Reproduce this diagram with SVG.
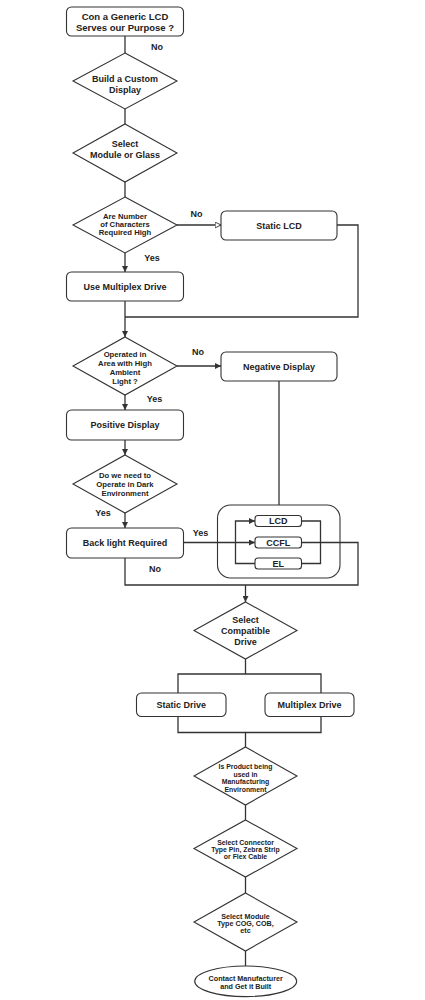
<svg xmlns="http://www.w3.org/2000/svg" width="425" height="1000" viewBox="0 0 425 1000">
<defs>
<style>
.bx{fill:#fff;stroke:#333;stroke-width:1.1}
.t{font-family:"Liberation Sans",Arial,sans-serif;font-weight:bold;fill:#222;text-anchor:middle}
.f9{font-size:9px}
.f95{font-size:9.5px}
.f78{font-size:7.7px}
.f73{font-size:7.2px}
.f7{font-size:6.9px}
.c{fill:none;stroke:#333;stroke-width:1.3}
</style>
<marker id="arr" viewBox="0 0 6 6" refX="6" refY="3" markerWidth="6" markerHeight="6" markerUnits="userSpaceOnUse" orient="auto">
<path d="M0,0 L6,3 L0,6 z" fill="#333"/>
</marker>
<marker id="arrOpen" viewBox="0 0 7 7" refX="6.5" refY="3.5" markerWidth="7" markerHeight="7" markerUnits="userSpaceOnUse" orient="auto">
<path d="M0.6,0.6 L6.5,3.5 L0.6,6.4 z" fill="#fff" stroke="#333" stroke-width="0.9"/>
</marker>
</defs>
<rect width="425" height="1000" fill="#fff"/>

<g id="connectors">
<path class="c" d="M125,36 V53"/>
<path class="c" d="M125,109 V124"/>
<path class="c" d="M125,182 V197"/>
<path class="c" d="M177,225 H221" marker-end="url(#arrOpen)"/>
<path class="c" d="M125,253 V272" marker-end="url(#arr)"/>
<path class="c" d="M337,225 H358 V317 H125"/>
<path class="c" d="M125,301 V337" marker-end="url(#arr)"/>
<path class="c" d="M177,366 H221" marker-end="url(#arr)"/>
<path class="c" d="M125,395 V410" marker-end="url(#arr)"/>
<path class="c" d="M125,440 V455" marker-end="url(#arr)"/>
<path class="c" d="M125,513 V528" marker-end="url(#arr)"/>
<path class="c" d="M279,381 V505"/>
<path class="c" d="M183.5,542.5 H255" marker-end="url(#arr)"/>
<path class="c" d="M255,563.5 H235.5 V521 H255" marker-end="url(#arr)"/>
<path class="c" d="M301.5,521 H320.5 V563.5 H301.5"/>
<path class="c" d="M301.5,542.5 H358 V585 H125 V558"/>
<path class="c" d="M245.5,585 V602" marker-end="url(#arr)"/>
<path class="c" d="M245.5,659 V674 M178,693 V674 H321 V693"/>
<path class="c" d="M178,716.5 V732.5 H321 V716.5 M245.5,732.5 V747"/>
<path class="c" d="M245.5,805 V820"/>
<path class="c" d="M245.5,877 V893"/>
<path class="c" d="M245.5,951 V966"/>
</g>

<g id="labels">
<text class="t f9" x="157" y="50">No</text>
<text class="t f9" x="196.5" y="217">No</text>
<text class="t f9" x="152" y="261">Yes</text>
<text class="t f9" x="198" y="355">No</text>
<text class="t f9" x="154.5" y="402">Yes</text>
<text class="t f9" x="103" y="516">Yes</text>
<text class="t f9" x="200.5" y="536">Yes</text>
<text class="t f9" x="155" y="572">No</text>
</g>

<g id="n-start">
<rect class="bx" x="66.5" y="7" width="117" height="29" rx="5"/>
<text class="t f95" x="125" y="19.5">Con a Generic LCD</text>
<text class="t f95" x="125" y="30.5">Serves our Purpose ?</text>
</g>

<g id="n-custom">
<polygon class="bx" points="125,53 177,81 125,109 73,81"/>
<text class="t f9" x="125" y="82">Build a Custom</text>
<text class="t f9" x="125" y="93">Display</text>
</g>

<g id="n-select">
<polygon class="bx" points="125,124 177,153 125,182 73,153"/>
<text class="t f9" x="125" y="147">Select</text>
<text class="t f9" x="125" y="158">Module or Glass</text>
</g>

<g id="n-chars">
<polygon class="bx" points="125,197 177,225 125,253 73,225"/>
<text class="t f78" x="125" y="218.7">Are Number</text>
<text class="t f78" x="125" y="227">of Characters</text>
<text class="t f78" x="125" y="235.4">Required High</text>
</g>

<g id="n-static-lcd">
<rect class="bx" x="221" y="211" width="116" height="29" rx="5"/>
<text class="t f9" x="279" y="228.5">Static LCD</text>
</g>

<g id="n-multiplex">
<rect class="bx" x="66.5" y="272" width="117" height="29" rx="5"/>
<text class="t f9" x="125" y="289.8">Use Multiplex Drive</text>
</g>

<g id="n-ambient">
<polygon class="bx" points="125,337 177,366 125,395 73,366"/>
<text class="t f78" x="125" y="356.7">Operated in</text>
<text class="t f78" x="125" y="365.7">Area with High</text>
<text class="t f78" x="125" y="374.7">Ambient</text>
<text class="t f78" x="125" y="383.7">Light ?</text>
</g>

<g id="n-negative">
<rect class="bx" x="221" y="352" width="116" height="29" rx="5"/>
<text class="t f9" x="279" y="369.8">Negative Display</text>
</g>

<g id="n-positive">
<rect class="bx" x="66.5" y="410" width="117" height="30" rx="5"/>
<text class="t f9" x="125" y="428.2">Positive Display</text>
</g>

<g id="n-dark">
<polygon class="bx" points="125,455 177,484 125,513 73,484"/>
<text class="t f78" x="125" y="477.8">Do we need to</text>
<text class="t f78" x="125" y="486.8">Operate in Dark</text>
<text class="t f78" x="125" y="495.8">Environment</text>
</g>

<g id="n-backlight">
<rect class="bx" x="66.5" y="528" width="117" height="30" rx="5"/>
<text class="t f9" x="125" y="546.2">Back light Required</text>
</g>

<g id="n-backlight-group">
<rect x="217.5" y="505" width="122.5" height="73" rx="13" fill="none" stroke="#333" stroke-width="1.1"/>
</g>

<g id="n-lcd">
<rect class="bx" x="255" y="515.5" width="46.5" height="11" rx="3"/>
<text class="t f9" x="278.25" y="524.3">LCD</text>
</g>

<g id="n-ccfl">
<rect class="bx" x="255" y="537" width="46.5" height="11" rx="3"/>
<text class="t f9" x="278.25" y="545.8">CCFL</text>
</g>

<g id="n-el">
<rect class="bx" x="255" y="558" width="46.5" height="11" rx="3"/>
<text class="t f9" x="278.25" y="566.8">EL</text>
</g>

<g id="n-compatible">
<polygon class="bx" points="245.5,602 297,630.5 245.5,659 194,630.5"/>
<text class="t f9" x="245.5" y="623.2">Select</text>
<text class="t f9" x="245.5" y="633.9">Compatible</text>
<text class="t f9" x="245.5" y="644.9">Drive</text>
</g>

<g id="n-static-drive">
<rect class="bx" x="136.5" y="693" width="89.5" height="23.5" rx="5"/>
<text class="t f9" x="181.2" y="708">Static Drive</text>
</g>

<g id="n-multiplex-drive">
<rect class="bx" x="265" y="693" width="89" height="23.5" rx="5"/>
<text class="t f9" x="309.5" y="708">Multiplex Drive</text>
</g>

<g id="n-manufacturing">
<polygon class="bx" points="245.5,747 297,776 245.5,805 194,776"/>
<text class="t f7" x="245.5" y="769.4">Is Product being</text>
<text class="t f7" x="245.5" y="776.8">used in</text>
<text class="t f7" x="245.5" y="784.2">Manufacturing</text>
<text class="t f7" x="245.5" y="791.6">Environment</text>
</g>

<g id="n-connector">
<polygon class="bx" points="245.5,820 297,848.5 245.5,877 194,848.5"/>
<text class="t f7" x="245.5" y="844.6">Select Connector</text>
<text class="t f7" x="245.5" y="852">Type Pin, Zebra Strip</text>
<text class="t f7" x="245.5" y="859.4">or Flex Cable</text>
</g>

<g id="n-module">
<polygon class="bx" points="245.5,893 297,922 245.5,951 194,922"/>
<text class="t f73" x="245.5" y="918.8">Select Module</text>
<text class="t f73" x="245.5" y="926">Type COG, COB,</text>
<text class="t f73" x="245.5" y="933.3">etc</text>
</g>

<g id="n-contact">
<ellipse class="bx" cx="245.7" cy="981.3" rx="51" ry="15.3"/>
<text class="t f73" x="245.7" y="980.8">Contact Manufacturer</text>
<text class="t f73" x="245.7" y="988.8">and Get it Built</text>
</g>
</svg>
